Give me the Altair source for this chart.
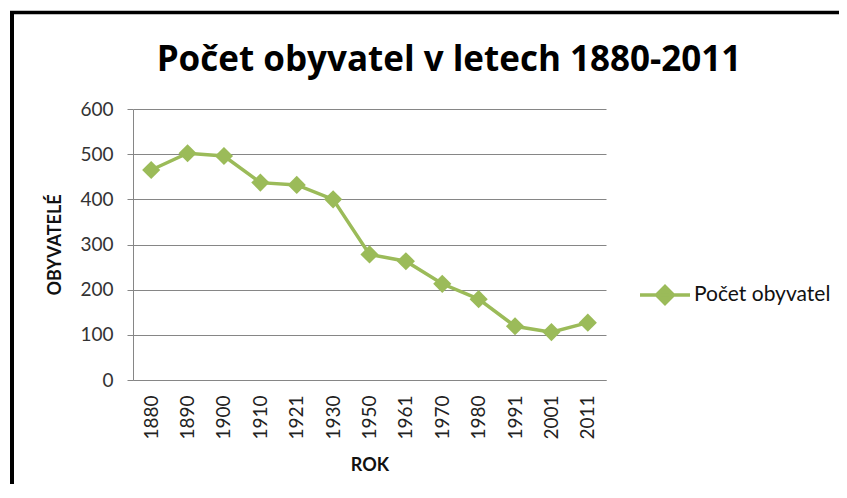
import altair as alt
import pandas as pd

years = ["1880", "1890", "1900", "1910", "1921", "1930", "1950",
         "1961", "1970", "1980", "1991", "2001", "2011"]
population = [465, 502, 496, 437, 432, 400, 278, 263, 213, 179, 119, 106, 127]
series_name = "Počet obyvatel"
title_text = "Počet obyvatel v letech 1880-2011"
y_ticks = [0, 100, 200, 300, 400, 500, 600]

df = pd.DataFrame({"rok": years, "obyvatele": population, "serie": [series_name] * len(years)})

GREEN = "#9BBB59"
FONT = "Lato"

x_enc = alt.X("rok:O", sort=years,
              axis=alt.Axis(title="ROK", labelAngle=-90, labelFont=FONT, labelFontSize=19,
                            labelColor="#222222", labelPadding=15, ticks=False,
                            domainColor="#868686", titleFont=FONT, titleFontSize=18,
                            titleFontWeight="bold", titleColor="#111111",
                            titleBaseline="alphabetic", titleY=90, titleX=236.5))
y_enc = alt.Y("obyvatele:Q", scale=alt.Scale(domain=[0, 600], nice=False),
              axis=alt.Axis(title="OBYVATELÉ", values=y_ticks, labelFont=FONT, labelFontSize=19,
                            labelColor="#333333", labelPadding=14, tickSize=6, tickColor="#868686",
                            domainColor="#868686", gridColor="#868686", titleFont=FONT,
                            titleFontSize=18, titleFontWeight="bold", titleColor="#111111",
                            titleAngle=-90, titleBaseline="middle", titleX=-78, titleY=135.5))

color_enc = alt.Color("serie:N", scale=alt.Scale(domain=[series_name], range=[GREEN]),
                      legend=alt.Legend(title=None, orient="none", legendX=505, legendY=159,
                                        padding=0, labelFont=FONT, labelFontSize=21,
                                        labelColor="#111111", labelOffset=2,
                                        symbolType="M-1,0L1,0M-0.34,0L0,-0.34L0.34,0L0,0.34Z",
                                        symbolSize=2500, symbolStrokeWidth=3.5,
                                        symbolFillColor=GREEN, symbolStrokeColor=GREEN))

base = alt.Chart(df)
line = base.mark_line(strokeWidth=3.5).encode(x=x_enc, y=y_enc, color=color_enc)
points = base.mark_point(shape="diamond", filled=True, size=330, opacity=1).encode(
    x=x_enc, y=y_enc, color=alt.Color("serie:N", scale=alt.Scale(domain=[series_name], range=[GREEN]), legend=None))

title_df = pd.DataFrame({"t": [title_text]})
title_mark = alt.Chart(title_df).mark_text(font="Open Sans", fontSize=35, fontWeight="bold",
                                           color="#000000", align="center",
                                           baseline="alphabetic").encode(
    text="t:N", x=alt.value(316), y=alt.value(-38))

frame_df = pd.DataFrame({"k": [0]})
frame_top = alt.Chart(frame_df).mark_rule(color="black", strokeWidth=3.5).encode(
    x=alt.value(-123), x2=alt.value(760), y=alt.value(-96.5))
frame_left = alt.Chart(frame_df).mark_rule(color="black", strokeWidth=4).encode(
    x=alt.value(-121), y=alt.value(-98), y2=alt.value(420))

chart = alt.layer(line, points, title_mark, frame_top, frame_left).properties(
    width=473, height=271,
    autosize=alt.AutoSizeParams(type="none"),
    padding={"left": 125, "top": 101, "right": 233, "bottom": 104},
).configure_view(stroke=None).configure_axis(gridWidth=1, domainWidth=1)

chart.save("out.html", embed_options={"renderer": "svg", "actions": False})
